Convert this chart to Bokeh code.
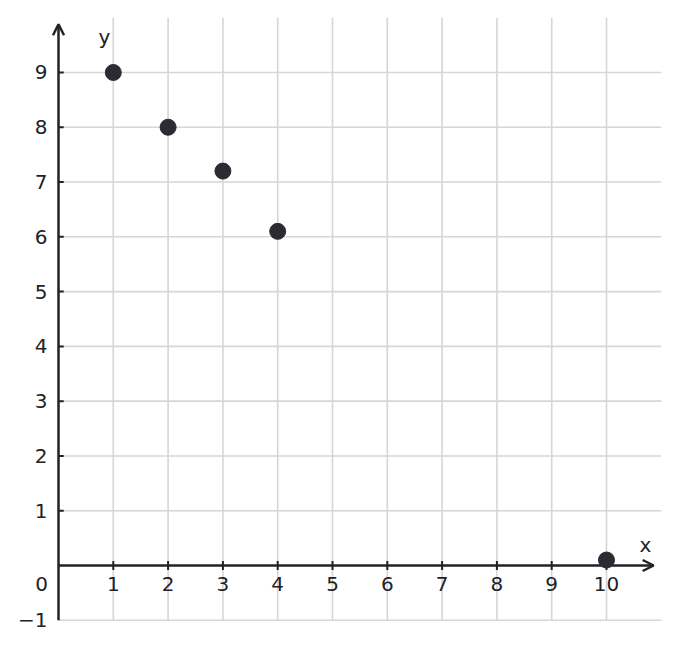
import math
from bokeh.plotting import figure
from bokeh.models import Arrow, OpenHead, Range1d
from bokeh.embed import file_html
from bokeh.resources import INLINE

xs = [1, 2, 3, 4, 10]
ys = [9, 8, 7.2, 6.1, 0.1]
x_ticks = [1, 2, 3, 4, 5, 6, 7, 8, 9, 10]
x_tick_labels = ["1", "2", "3", "4", "5", "6", "7", "8", "9", "10"]
y_ticks = [-1, 1, 2, 3, 4, 5, 6, 7, 8, 9]
y_tick_labels = ["\u22121", "1", "2", "3", "4", "5", "6", "7", "8", "9"]

INK = "#222226"
DOT = "#2b2c33"
GRID = "#d6d6d6"
FONT = "DejaVu Sans"
FS = "20px"

W, H = 670, 640
X0PX, XU = 58.0, 54.8          # pixel of x=0, pixels per x unit
Y0PX, YU = 565.0, 54.78        # pixel of y=0, pixels per y unit

p = figure(width=W, height=H, output_backend="svg", toolbar_location=None,
           x_range=Range1d(-X0PX / XU, (W - X0PX) / XU),
           y_range=Range1d(-(H - Y0PX) / YU, Y0PX / YU),
           x_axis_type=None, y_axis_type=None,
           min_border=0)
p.outline_line_color = None
p.background_fill_color = "white"
p.border_fill_color = "white"
p.xgrid.visible = False
p.ygrid.visible = False

# grid lines
n_x = len(x_ticks)
n_y = len(y_ticks)
g1 = p.segment(x0=x_ticks, y0=[-1] * n_x, x1=x_ticks, y1=[10] * n_x,
               line_color=GRID, line_width=1.6)
g2 = p.segment(x0=[0] * n_y, y0=y_ticks, x1=[11] * n_y, y1=y_ticks,
               line_color=GRID, line_width=1.6)
g1.level = "underlay"
g2.level = "underlay"

# axes with arrow heads
ax = Arrow(end=OpenHead(size=11, line_color=INK, line_width=2.5),
           x_start=0, y_start=0, x_end=10.86, y_end=0,
           line_color=INK, line_width=2.5, level="underlay")
ay = Arrow(end=OpenHead(size=11, line_color=INK, line_width=2.5),
           x_start=0, y_start=-1, x_end=0, y_end=9.88,
           line_color=INK, line_width=2.5, level="underlay")
p.add_layout(ax)
p.add_layout(ay)

# tick marks
p.scatter(x=x_ticks, y=[0] * n_x, marker="dash", angle=math.pi / 2, size=9,
          line_color=INK, line_width=2)
p.segment(x0=[0] * (n_y - 1), y0=y_ticks[1:], x1=[0.095] * (n_y - 1), y1=y_ticks[1:],
          line_color=INK, line_width=2)

# tick labels
p.text(x=x_ticks, y=[0] * n_x, text=x_tick_labels, x_offset=0, y_offset=18,
       text_align="center", text_baseline="middle",
       text_font={"value": FONT}, text_font_size={"value": FS}, text_color=INK)
p.text(x=[0] * n_y, y=y_ticks, text=y_tick_labels, x_offset=-11, y_offset=0,
       text_align="right", text_baseline="middle",
       text_font={"value": FONT}, text_font_size={"value": FS}, text_color=INK)
p.text(x=[0], y=[0], text=["0"], x_offset=-17, y_offset=18,
       text_align="center", text_baseline="middle",
       text_font={"value": FONT}, text_font_size={"value": FS}, text_color=INK)

# axis names
p.text(x=[10.71], y=[0.37], text=["x"], text_align="center", text_baseline="middle",
       text_font={"value": FONT}, text_font_size={"value": FS}, text_color=INK)
p.text(x=[0.84], y=[9.64], text=["y"], text_align="center", text_baseline="middle",
       text_font={"value": FONT}, text_font_size={"value": FS}, text_color=INK)

# data points
p.scatter(xs, ys, size=16, fill_color=DOT, line_color=DOT)

open("out.html", "w").write(file_html(p, INLINE))
